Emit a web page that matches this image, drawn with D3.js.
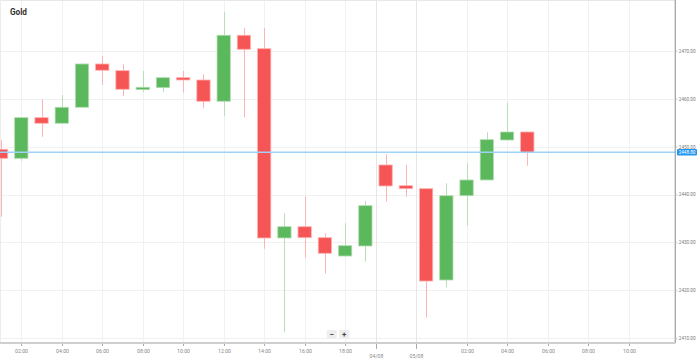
<!DOCTYPE html>
<html>
<head>
<meta charset="utf-8">
<script src="https://cdn.jsdelivr.net/npm/d3@7"></script>
<style>
  body { margin: 0; background: #fff; }
  svg { display: block; font-family: Roboto, "Noto Sans", sans-serif; }
</style>
</head>
<body>
<div id="chart"></div>
<script>
// 1: DATA (hourly candles, index = hour slot)
const opens  = [2449.43, 2447.55, 2456.03, 2454.86, 2458.20, 2467.23, 2465.83, 2461.87, 2462.29, 2464.37, 2463.89, 2459.45, 2473.22, 2470.42, 2430.93, 2433.28, 2430.99, 2427.17, 2429.26, 2446.16, 2441.84, 2441.21, 2422.16, 2439.75, 2443.03, 2451.37, 2453.04];
const highs  = [2451.37, 2456.10, 2459.86, 2460.76, 2467.30, 2468.90, 2467.17, 2465.77, 2464.60, 2465.77, 2465.00, 2478.08, 2474.74, 2474.74, 2436.08, 2439.54, 2431.91, 2433.99, 2438.65, 2448.39, 2446.16, 2441.30, 2442.34, 2446.51, 2452.98, 2459.16, 2453.10];
const lows   = [2435.37, 2447.05, 2452.06, 2454.80, 2458.10, 2462.85, 2460.55, 2461.33, 2461.39, 2461.25, 2457.99, 2456.32, 2456.11, 2428.69, 2411.25, 2426.82, 2423.48, 2427.00, 2425.98, 2438.50, 2439.54, 2414.30, 2420.64, 2433.49, 2443.00, 2451.30, 2446.01];
const closes = [2447.55, 2456.03, 2454.86, 2458.20, 2467.23, 2465.92, 2461.95, 2462.37, 2464.37, 2463.89, 2459.45, 2473.22, 2470.30, 2430.93, 2433.28, 2430.99, 2427.73, 2429.32, 2437.67, 2441.78, 2441.21, 2421.95, 2439.75, 2443.03, 2451.44, 2453.04, 2448.80];

const xTickPos    = [1, 3, 5, 7, 9, 11, 13, 15, 17, 18.5, 20.5, 23, 25, 27, 29, 31];
const xTickLabels = ["02:00", "04:00", "06:00", "08:00", "10:00", "12:00", "14:00", "16:00", "18:00", "04/08", "05/08", "02:00", "04:00", "06:00", "08:00", "10:00"];
const yTicks = [2410, 2420, 2430, 2440, 2450, 2460, 2470];
const lastPrice = 2448.80;
const lastLabel = "2448.80";

// 2: LAYOUT
const W = 699, H = 362;
const plotRight = 675.3, plotBottom = 343;

const svg = d3.select("#chart").append("svg")
    .attr("width", W).attr("height", H);

const x = d3.scaleLinear().domain([0, 31]).range([1.06, 628.5]);
const y = d3.scaleLinear().domain([2410, 2470]).range([338.3, 50.7]);

svg.append("defs").append("clipPath").attr("id", "plotClip")
    .append("rect").attr("x", 0).attr("y", 0).attr("width", plotRight).attr("height", plotBottom);

// grid
const grid = svg.append("g");
grid.selectAll(".hg").data(yTicks).enter().append("line")
    .attr("x1", 0).attr("x2", plotRight)
    .attr("y1", d => Math.round(y(d)) + 0.5).attr("y2", d => Math.round(y(d)) + 0.5)
    .attr("stroke", "#f1f1f1");
grid.selectAll(".vg").data(xTickPos).enter().append("line")
    .attr("y1", 0).attr("y2", plotBottom)
    .attr("x1", d => Math.round(x(d)) + 0.5).attr("x2", d => Math.round(x(d)) + 0.5)
    .attr("stroke", (d, i) => xTickLabels[i].includes("/") ? "#e6e6e6" : "#f1f1f1");
// top and left border
grid.append("line").attr("x1", 0).attr("x2", plotRight).attr("y1", 0.5).attr("y2", 0.5).attr("stroke", "#e8e8e8");
grid.append("line").attr("x1", 0.5).attr("x2", 0.5).attr("y1", 0).attr("y2", plotBottom).attr("stroke", "#ececec");

// title
svg.append("text").attr("x", 10).attr("y", 14.5)
    .attr("font-size", 8.2).attr("font-weight", "bold").attr("fill", "#333")
    .text("Gold");

// 3: CANDLES
const candles = opens.map((o, i) => ({ i, o, h: highs[i], l: lows[i], c: closes[i] }));
const bodyW = 13.3;
const cg = svg.append("g").attr("clip-path", "url(#plotClip)");

cg.selectAll(".wick").data(candles).enter().append("line")
    .attr("x1", d => Math.round(x(d.i)) + 0.5).attr("x2", d => Math.round(x(d.i)) + 0.5)
    .attr("y1", d => y(d.h)).attr("y2", d => y(d.l))
    .attr("stroke", d => d.c >= d.o ? "#b9dfb9" : "#ffb3b3")
    .attr("stroke-width", 1);

cg.selectAll(".body").data(candles).enter().append("rect")
    .attr("x", d => x(d.i) - bodyW / 2)
    .attr("width", bodyW)
    .attr("y", d => y(Math.max(d.o, d.c)))
    .attr("height", d => Math.max(1.5, Math.abs(y(d.o) - y(d.c))))
    .attr("fill", d => d.c >= d.o ? "#5cb85c" : "#f65555")
    .attr("stroke", d => d.c >= d.o ? "#b3dcb3" : "#ffb0b0")
    .attr("stroke-width", 0.8);

// current price line
svg.append("line")
    .attr("x1", 0).attr("x2", plotRight)
    .attr("y1", y(lastPrice)).attr("y2", y(lastPrice))
    .attr("stroke", "#9fd2f6").attr("stroke-width", 1.6);

// 4: AXES
const yAxis = svg.append("g")
    .attr("transform", `translate(${plotRight},0)`)
    .call(d3.axisRight(y).tickValues(yTicks).tickSize(2).tickPadding(1.5).tickFormat(d3.format(".2f")));
yAxis.select(".domain").attr("stroke", "#aaa").attr("stroke-width", 1.4).attr("d", `M0,0V${plotBottom}`);
yAxis.selectAll(".tick line").attr("stroke", "#bbb");
yAxis.selectAll(".tick text").attr("fill", "#777").attr("font-size", 4.6).attr("font-family", "Roboto, sans-serif");

// price label
svg.append("rect").attr("x", 677).attr("y", y(lastPrice) - 3.2).attr("width", 20).attr("height", 6.4)
    .attr("rx", 1).attr("fill", "#2196f3");
svg.append("text").attr("x", 687).attr("y", y(lastPrice) + 1.7)
    .attr("text-anchor", "middle").attr("font-size", 4.6).attr("fill", "#fff")
    .text(lastLabel);

const xAxis = svg.append("g").attr("transform", `translate(0,${plotBottom})`);
xAxis.append("line").attr("x1", 0).attr("x2", plotRight).attr("y1", 0).attr("y2", 0)
    .attr("stroke", "#cfcfcf").attr("stroke-width", 2);
const xt = xAxis.selectAll(".xt").data(xTickPos).enter().append("g")
    .attr("transform", d => `translate(${Math.round(x(d)) + 0.5},0)`);
xt.append("line").attr("y1", 1).attr("y2", (d, i) => xTickLabels[i].includes("/") ? 6 : 3)
    .attr("stroke", "#aaa");
xt.append("text")
    .attr("y", (d, i) => xTickLabels[i].includes("/") ? 14.5 : 9.5)
    .attr("text-anchor", "middle").attr("font-size", 5.2).attr("fill", "#888")
    .text((d, i) => xTickLabels[i]);

// zoom buttons
const zb = svg.append("g");
[["−", 326.7], ["+", 339.3]].forEach(([s, bx]) => {
    zb.append("rect").attr("x", bx).attr("y", 330).attr("width", 10).attr("height", 8.3).attr("fill", "#eee").attr("rx", 1);
    zb.append("text").attr("x", bx + 5).attr("y", 337).attr("text-anchor", "middle")
        .attr("font-size", 8).attr("font-weight", "bold").attr("fill", "#444").text(s);
});
</script>
</body>
</html>
